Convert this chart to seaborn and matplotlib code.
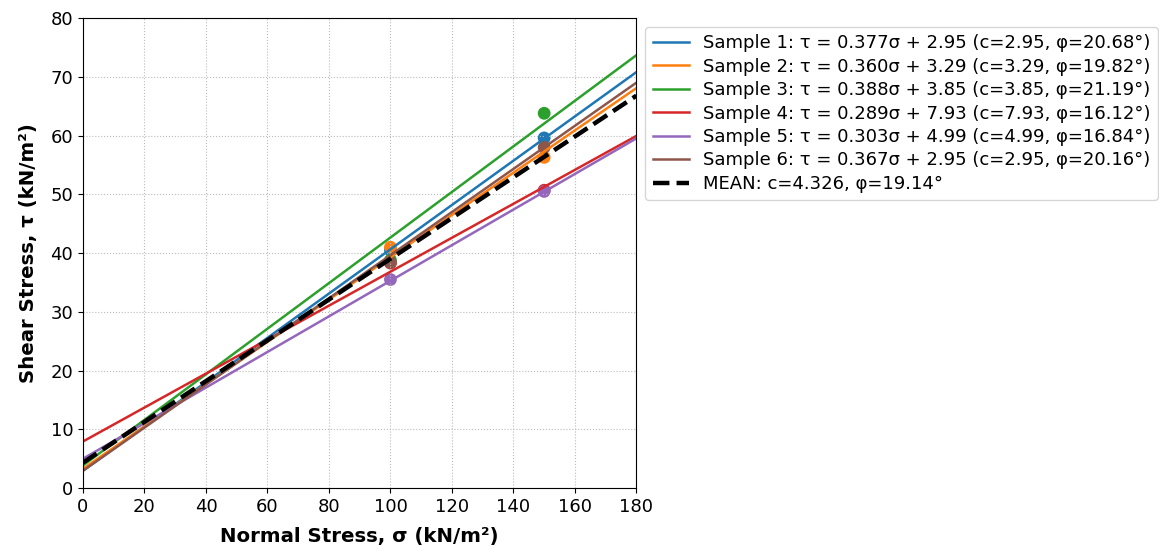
import numpy as np
import pandas as pd
import matplotlib
matplotlib.use("Agg")
import matplotlib.pyplot as plt
import seaborn as sns

# normal stresses used in the tests (kN/m2); the 200 point sits beyond the x-limit
normal_stress = [100, 150, 200]

shear_s1 = [40.5, 59.6, 78.2]
shear_s2 = [41.0, 56.3, 75.2]
shear_s3 = [38.8, 63.8, 79.8]
shear_s4 = [38.3, 50.7, 66.2]
shear_s5 = [35.5, 50.5, 65.8]
shear_s6 = [38.4, 58.0, 75.3]

samples = ["Sample 1", "Sample 2", "Sample 3", "Sample 4", "Sample 5", "Sample 6"]
slopes = [0.377, 0.360, 0.388, 0.289, 0.303, 0.367]
cohesion = [2.95, 3.29, 3.85, 7.93, 4.99, 2.95]
phi_deg = [20.68, 19.82, 21.19, 16.12, 16.84, 20.16]

mean_c = 4.326
mean_phi = 19.14

sigma_line = np.array([0, 180])

shear_all = [shear_s1, shear_s2, shear_s3, shear_s4, shear_s5, shear_s6]
colors = sns.color_palette("tab10", 6)

fig = plt.figure(figsize=(11.59, 5.49), dpi=100)
ax = fig.add_axes([0.0716, 0.111, 0.4775, 0.856])

for i, name in enumerate(samples):
    pts = pd.DataFrame({"sigma": normal_stress, "tau": shear_all[i]})
    sns.scatterplot(data=pts, x="sigma", y="tau", color=colors[i], s=85,
                    edgecolor="none", legend=False, ax=ax)
    fit = pd.DataFrame({"sigma": sigma_line,
                        "tau": slopes[i] * sigma_line + cohesion[i]})
    label = (f"{name}: τ = {slopes[i]:.3f}σ + {cohesion[i]:.2f} "
             f"(c={cohesion[i]:.2f}, φ={phi_deg[i]:.2f}°)")
    sns.lineplot(data=fit, x="sigma", y="tau", color=colors[i], lw=1.8,
                 label=label, ax=ax)

mean_fit = pd.DataFrame({"sigma": sigma_line,
                         "tau": np.tan(np.radians(mean_phi)) * sigma_line + mean_c})
sns.lineplot(data=mean_fit, x="sigma", y="tau", color="black", lw=3.2,
             linestyle="--", label=f"MEAN: c={mean_c:.3f}, φ={mean_phi:.2f}°", ax=ax)

ax.set_xlim(0, 180)
ax.set_ylim(0, 80)
ax.set_xticks(np.arange(0, 181, 20))
ax.set_yticks(np.arange(0, 81, 10))
ax.grid(True, linestyle=":", color="#bbbbbb", linewidth=0.8)
ax.set_xlabel("Normal Stress, σ (kN/m²)", fontweight="bold", fontsize=14.2, labelpad=8)
ax.set_ylabel("Shear Stress, τ (kN/m²)", fontweight="bold", fontsize=14.2, labelpad=9)
ax.tick_params(labelsize=13)

ax.legend(loc="upper left", bbox_to_anchor=(1.0, 1.0), fontsize=13,
          labelspacing=0.3, handlelength=2.0)

fig.savefig("out.png", dpi=100)
plt.close(fig)
